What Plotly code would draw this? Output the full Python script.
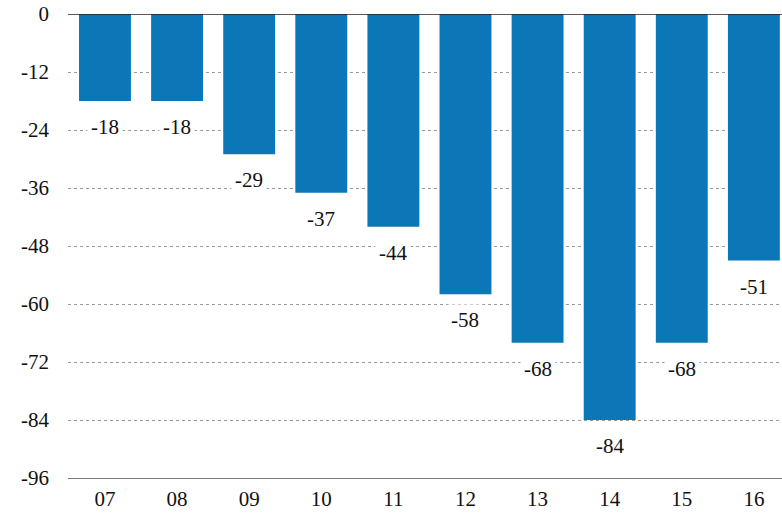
import plotly.graph_objects as go

# Annual values, 2007-2016
years = ["07", "08", "09", "10", "11", "12", "13", "14", "15", "16"]
values = [-18, -18, -29, -37, -44, -58, -68, -84, -68, -51]

# Y-axis ticks
y_ticks = [0, -12, -24, -36, -48, -60, -72, -84, -96]
y_tick_labels = ["0", "-12", "-24", "-36", "-48", "-60", "-72", "-84", "-96"]

BAR_COLOR = "#0b77b6"
FONT = "Liberation Serif"

fig = go.Figure()
fig.add_trace(go.Bar(
    x=years,
    y=values,
    marker=dict(color=BAR_COLOR, line=dict(width=0)),
    width=0.72,
    hoverinfo="skip",
))

# Value labels beneath each bar end, on a white patch that breaks the gridlines
for i, v in enumerate(values):
    fig.add_annotation(
        x=i, y=v, text=str(v),
        showarrow=False, yanchor="middle", yshift=-26,
        font=dict(family=FONT, size=21, color="#111111"),
        bgcolor="white", borderpad=3,
    )

# Dark baseline at zero
fig.add_shape(
    type="line", xref="paper", yref="y", x0=0, x1=1, y0=0, y1=0,
    line=dict(color="#2b211b", width=1.5), layer="above",
)

fig.update_layout(
    width=782, height=515,
    margin=dict(l=68, r=0, t=14, b=37),
    paper_bgcolor="white", plot_bgcolor="white",
    showlegend=False,
    font=dict(family=FONT, size=21, color="#111111"),
)
fig.update_xaxes(
    type="category",
    range=[-0.513, 9.39],
    showgrid=False, zeroline=False,
    showline=True, linecolor="#7a7a7a", linewidth=1.2,
    ticks="", tickfont=dict(family=FONT, size=21, color="#111111"),
    ticklabelstandoff=2,
)
fig.update_yaxes(
    range=[-96, 0],
    tickmode="array", tickvals=y_ticks, ticktext=y_tick_labels,
    showgrid=True, gridcolor="#9a9a9a", gridwidth=1, griddash="dot",
    zeroline=False, showline=False,
    ticks="", ticklabelstandoff=18,
    tickfont=dict(family=FONT, size=21, color="#111111"),
)

fig.write_html("out.html")
